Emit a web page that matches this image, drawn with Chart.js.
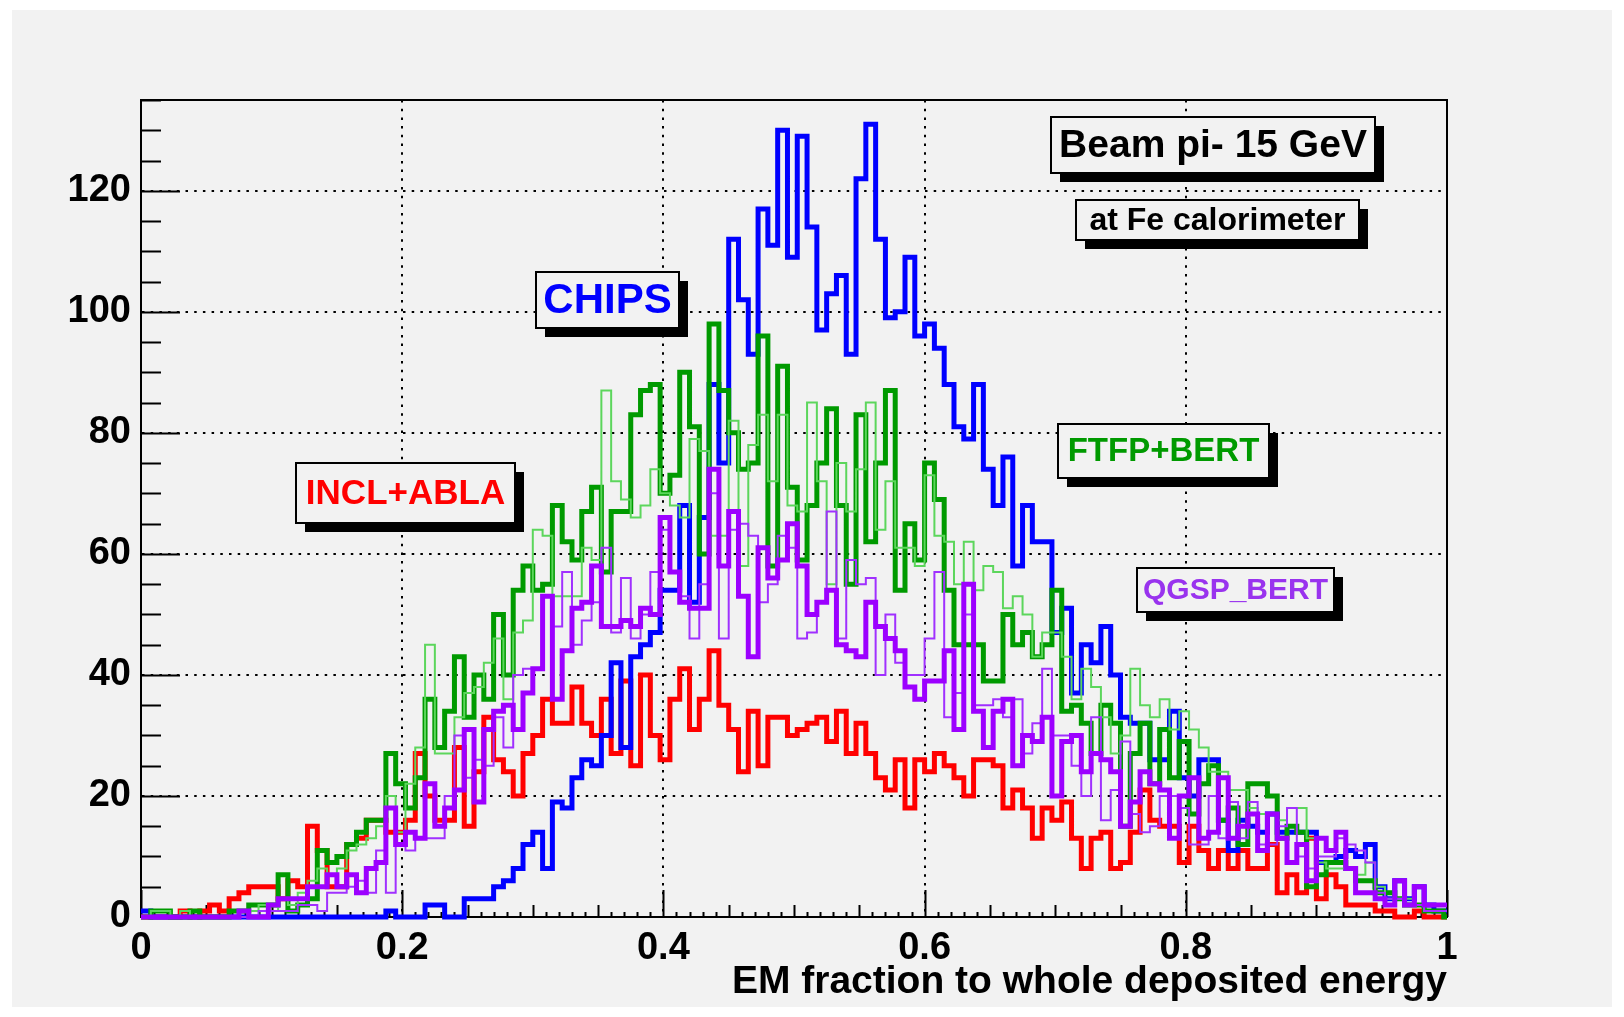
<!DOCTYPE html>
<html>
<head>
<meta charset="utf-8">
<title>EM fraction to whole deposited energy</title>
<script src="https://cdn.jsdelivr.net/npm/chart.js@4/dist/chart.umd.min.js"></script>
<style>
  html, body { margin: 0; padding: 0; background: #ffffff; }
  canvas { display: block; }
</style>
</head>
<body>
<canvas id="c" width="1624" height="1017"></canvas>
<script>
// Histogram binning (fixed-width bins starting at 0, last bin cut at the axis end)
const BIN_WIDTH = 0.0075;
const X_MIN = 0;
const X_MAX = 1;
const Y_MAX = 135;
const Y_MAJOR = 20;
const Y_MINOR = 5;

const xTickValues = [0, 0.2, 0.4, 0.6, 0.8, 1];
const xTickLabels = ['0', '0.2', '0.4', '0.6', '0.8', '1'];
const X_TITLE = 'EM fraction to whole deposited energy';

// Entries per bin, 134 bins each
const chipsCounts = [
  1,0,0,0,0,0,0,0,0,0,
  0,0,0,0,0,0,0,0,0,0,
  0,0,0,0,0,1,0,0,0,2,
  2,0,0,3,3,3,5,6,8,12,
  14,8,19,18,23,26,25,30,42,28,
  43,45,47,54,54,68,52,66,88,75,
  112,102,93,117,111,130,109,129,114,97,
  103,106,93,122,131,112,99,100,109,96,
  98,94,88,81,79,88,74,68,76,58,
  68,62,62,47,51,37,45,42,48,40,
  33,32,32,26,26,34,23,20,26,26,
  16,11,16,15,14,17,14,14,14,14,
  9,9,10,11,10,12,5,3,6,3,
  5,2,1,1
];

const inclAblaCounts = [
  0,0,0,0,1,0,1,2,1,3,
  4,5,5,5,3,6,5,15,11,5,
  5,12,13,16,16,14,14,16,27,20,
  16,16,28,15,24,33,26,24,20,27,
  30,36,32,32,38,32,30,36,27,39,
  25,40,30,26,36,41,31,36,44,35,
  31,24,34,25,33,33,30,31,32,33,
  29,34,27,32,27,23,21,26,18,26,
  24,27,25,23,20,26,26,25,18,21,
  18,13,18,16,19,13,8,13,14,8,
  9,14,21,16,15,15,9,15,11,8,
  11,8,11,8,8,12,4,7,4,13,
  3,7,5,2,2,2,1,1,0,0,
  1,0,0,0
];

const ftfpBertCounts = [
  0,1,1,0,0,1,0,0,0,1,
  1,2,2,2,7,1,2,3,11,9,
  10,12,14,16,16,27,22,18,23,36,
  28,34,43,33,40,36,50,40,54,58,
  54,55,68,62,59,67,71,57,67,67,
  83,87,88,70,73,90,81,60,98,87,
  80,74,75,96,58,91,71,59,68,75,
  84,68,55,83,62,75,87,54,65,59,
  75,69,54,45,45,45,39,39,50,45,
  47,43,45,54,34,35,32,27,35,32,
  15,27,32,22,31,23,29,17,22,25,
  16,18,12,22,22,20,13,15,14,5,
  7,9,9,8,6,6,4,4,3,2,
  2,1,1,0
];

const thinGreenCounts = [
  0,1,1,0,1,0,0,0,0,0,
  0,1,2,1,3,2,4,6,8,7,
  8,11,12,13,15,20,14,22,28,45,
  27,27,33,37,38,42,46,36,47,49,
  64,63,53,53,53,61,59,87,72,69,
  66,68,74,70,68,66,79,77,63,63,
  82,58,78,83,72,83,68,67,85,72,
  55,75,67,74,85,64,72,61,61,58,
  73,63,62,55,62,54,58,57,51,53,
  50,43,47,47,43,36,41,38,33,27,
  30,41,35,33,36,31,34,31,28,24,
  24,21,21,18,17,17,16,18,18,13,
  9,8,8,8,7,9,5,3,3,3,
  2,1,1,1
];

const qgspBertCounts = [
  0,0,0,0,0,0,0,0,0,0,
  1,0,0,2,3,3,3,5,5,7,
  5,7,4,8,9,18,12,14,13,22,
  15,18,21,31,19,31,34,35,31,37,
  41,53,36,44,51,52,58,48,48,49,
  48,51,50,66,57,52,51,51,74,58,
  67,53,43,61,56,59,65,58,50,52,
  54,45,44,43,52,48,46,44,38,36,
  39,39,44,31,55,34,28,34,36,25,
  30,29,33,20,29,30,24,27,26,24,
  15,19,24,22,21,13,20,23,13,14,
  23,13,15,17,11,17,13,9,12,6,
  13,11,14,8,4,4,3,2,6,2,
  5,2,2,2
];

const thinVioletCounts = [
  0,0,0,0,0,0,0,0,0,0,
  0,0,1,1,1,1,2,2,1,4,
  4,5,6,4,11,4,12,11,13,13,
  13,20,30,23,26,25,33,28,40,41,
  41,53,48,57,45,49,52,61,47,56,
  46,50,57,64,57,53,46,55,70,46,
  64,65,63,52,55,63,61,46,47,52,
  67,46,59,55,56,40,50,42,40,40,
  46,57,33,37,50,35,35,36,33,36,
  27,32,41,30,30,25,20,33,16,21,
  29,17,14,15,20,20,18,12,12,20,
  13,19,13,19,12,12,15,18,10,8,
  10,10,13,12,11,9,4,3,3,2,
  2,1,1,1
];

// Labelled boxes, placed in axis units
const notes = [
  { text: 'Beam pi- 15 GeV',   color: '#000000', size: 39, x0: 0.697, x1: 0.945, y0: 122.9, y1: 132.2 },
  { text: 'at Fe calorimeter', color: '#000000', size: 32, x0: 0.716, x1: 0.933, y0: 111.9, y1: 118.5 },
  { text: 'CHIPS',             color: '#0000ff', size: 42, x0: 0.3025, x1: 0.412, y0: 97.4, y1: 106.5 },
  { text: 'INCL+ABLA',         color: '#ff0000', size: 35, x0: 0.119, x1: 0.2866, y0: 65.1, y1: 75.0 },
  { text: 'FTFP+BERT',         color: '#009a00', size: 33, x0: 0.702, x1: 0.864, y0: 72.5, y1: 81.4 },
  { text: 'QGSP_BERT',         color: '#9933ee', size: 30, x0: 0.763, x1: 0.9133, y0: 50.4, y1: 57.6 }
];

const FONT = '"Liberation Sans", Arial, Helvetica, sans-serif';

function toSteps(counts) {
  const pts = counts.map((c, i) => ({ x: X_MIN + i * BIN_WIDTH, y: c }));
  pts.push({ x: X_MAX, y: counts[counts.length - 1] });
  return pts;
}

function histo(label, counts, color, width, order) {
  return {
    label: label,
    data: toSteps(counts),
    borderColor: color,
    borderWidth: width,
    stepped: 'before',
    pointRadius: 0,
    fill: false,
    tension: 0,
    borderJoinStyle: 'miter',
    borderCapStyle: 'butt',
    clip: 6,
    order: order
  };
}

const canvasBackground = {
  id: 'canvasBackground',
  beforeDraw(chart) {
    const { ctx, width, height } = chart;
    ctx.save();
    ctx.fillStyle = '#ffffff';
    ctx.fillRect(0, 0, width, height);
    ctx.fillStyle = '#f2f2f2';
    ctx.fillRect(12, 10, width - 24, height - 20);
    ctx.restore();
  }
};

const frameTicks = {
  id: 'frameTicks',
  beforeDatasetsDraw(chart) {
    const { ctx, chartArea: a, scales: { x, y } } = chart;
    ctx.save();
    ctx.strokeStyle = '#000000';
    ctx.lineWidth = 2;
    ctx.beginPath();
    ctx.moveTo(a.left, a.top);
    ctx.lineTo(a.right, a.top);
    ctx.lineTo(a.right, a.bottom);
    ctx.stroke();

    ctx.beginPath();
    for (let v = 0; v <= Y_MAX; v += Y_MINOR) {
      const py = Math.round(y.getPixelForValue(v)) + 0.5;
      const len = v % Y_MAJOR === 0 ? 39 : 20;
      ctx.moveTo(a.left, py);
      ctx.lineTo(a.left + len, py);
    }
    for (let i = 0; i <= 100; i++) {
      const px = Math.round(x.getPixelForValue(i / 100)) + 0.5;
      const len = i % 20 === 0 ? 27 : (i % 5 === 0 ? 12 : 5);
      ctx.moveTo(px, a.bottom);
      ctx.lineTo(px, a.bottom - len);
    }
    ctx.stroke();
    ctx.restore();
  }
};

const labelBoxes = {
  id: 'labelBoxes',
  afterDraw(chart) {
    const { ctx, scales: { x, y } } = chart;
    ctx.save();
    for (const n of notes) {
      const left = Math.round(x.getPixelForValue(n.x0));
      const right = Math.round(x.getPixelForValue(n.x1));
      const top = Math.round(y.getPixelForValue(n.y1));
      const bottom = Math.round(y.getPixelForValue(n.y0));
      const w = right - left, h = bottom - top;
      ctx.fillStyle = '#000000';
      ctx.fillRect(left + 9, top + 9, w, h);
      ctx.fillStyle = '#f2f2f2';
      ctx.fillRect(left, top, w, h);
      ctx.strokeStyle = '#000000';
      ctx.lineWidth = 2;
      ctx.strokeRect(left, top, w, h);
      ctx.fillStyle = n.color;
      ctx.font = 'bold ' + n.size + 'px ' + FONT;
      ctx.textAlign = 'center';
      ctx.textBaseline = 'middle';
      ctx.fillText(n.text, (left + right) / 2, (top + bottom) / 2 + 1);
    }
    ctx.restore();
  }
};

function fmtTick(v) {
  const r = Math.round(v * 1000) / 1000;
  const idx = xTickValues.indexOf(r);
  return idx >= 0 ? xTickLabels[idx] : String(r);
}

new Chart(document.getElementById('c'), {
  type: 'line',
  data: {
    datasets: [
      histo('QGSP_BERT', qgspBertCounts, '#9c00ff', 5, 0),
      histo('QGSP_BERT (thin)', thinVioletCounts, '#a030ff', 2, 1),
      histo('FTFP+BERT (thin)', thinGreenCounts, '#5cd65c', 2, 2),
      histo('FTFP+BERT', ftfpBertCounts, '#009a00', 5, 3),
      histo('CHIPS', chipsCounts, '#0000ff', 5, 4),
      histo('INCL+ABLA', inclAblaCounts, '#ff0000', 5, 5)
    ]
  },
  options: {
    responsive: false,
    animation: false,
    devicePixelRatio: 1,
    layout: { padding: { top: 100, right: 177, left: 0, bottom: 0 } },
    plugins: {
      legend: { display: false },
      tooltip: { enabled: false }
    },
    scales: {
      x: {
        type: 'linear',
        min: X_MIN,
        max: X_MAX,
        afterFit(scale) { scale.height = 100; },
        ticks: {
          stepSize: 0.2,
          autoSkip: false,
          maxRotation: 0,
          padding: 9,
          color: '#000000',
          font: { family: FONT, size: 38, weight: 'bold' },
          callback: (v) => fmtTick(v)
        },
        grid: { color: '#000000', lineWidth: 2, drawTicks: false },
        border: { display: true, color: '#000000', width: 2, dash: [2.5, 6.2] },
        title: {
          display: true,
          text: X_TITLE,
          align: 'end',
          color: '#000000',
          font: { family: FONT, size: 39, weight: 'bold', lineHeight: 1 },
          padding: { top: 0, bottom: 15 }
        }
      },
      y: {
        type: 'linear',
        min: 0,
        max: Y_MAX,
        afterFit(scale) { scale.width = 141; },
        ticks: {
          stepSize: Y_MAJOR,
          includeBounds: false,
          padding: 10,
          color: '#000000',
          font: { family: FONT, size: 38, weight: 'bold' }
        },
        grid: { color: '#000000', lineWidth: 2, drawTicks: false },
        border: { display: true, color: '#000000', width: 2, dash: [2.5, 6.2] }
      }
    }
  },
  plugins: [canvasBackground, frameTicks, labelBoxes]
});
</script>
</body>
</html>
